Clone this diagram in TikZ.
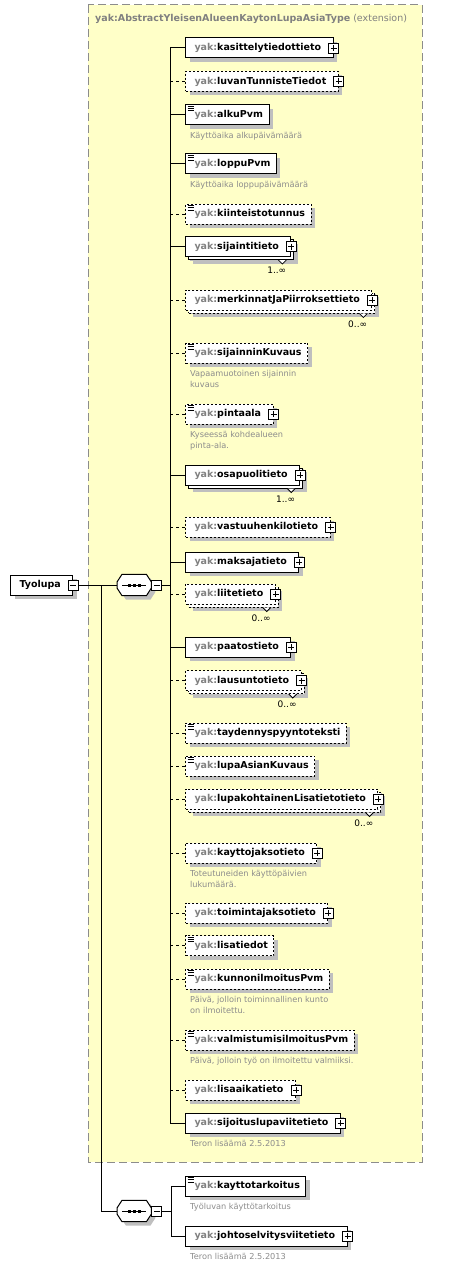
\documentclass[tikz,border=0pt]{standalone}
\usepackage{fontspec}
\setmainfont{DejaVu Sans}
\usetikzlibrary{shadows, positioning}

\definecolor{framefill}{HTML}{FFFFC8}
\definecolor{framedraw}{HTML}{8C8C8C}
\definecolor{pregray}{HTML}{808080}
\definecolor{docgray}{HTML}{8C8C8C}
\newcommand\yak{\textcolor{pregray}{yak:}}
% sequence compositor drawn round a named node
\newcommand\seqshape[1]{%
	\draw[line width=1pt, fill=white, shd=4pt] ([xshift=5pt]#1.north west) -- ([xshift=-5pt]#1.north east)
		-- ([yshift=3pt]#1.east) -- ([yshift=-3pt]#1.east) -- ([xshift=-5pt]#1.south east)
		-- ([xshift=5pt]#1.south west) -- ([yshift=-3pt]#1.west) -- ([yshift=3pt]#1.west) -- cycle;
	\draw[line width=1pt] ([xshift=5pt]#1.west) -- ([xshift=-5pt]#1.east);
	\foreach \d in {-5,0,5}
		\fill ([shift={(\d-1.5,-1.5)}]#1.center) rectangle ++(3,3);}

\tikzset{
	x=1pt, y=-1pt,
	shd/.style={drop shadow={shadow xshift=#1, shadow yshift=-#1, fill=black!25, opacity=1}},
	elem/.style={draw, fill=white, line width=1pt, anchor=west, minimum height=20pt,
		inner xsep=6pt, inner ysep=0pt, font=\fontsize{9.5}{11}\selectfont\bfseries,
		execute at begin node=\hspace{3pt}, shd=4pt},
	opt/.style={dash pattern=on 2pt off 2pt},
	plus/.style={execute at end node=\hspace{6pt}},
	multi/.style={shd=7pt, copy shadow={shadow xshift=3pt, shadow yshift=-3pt, draw, fill=white}},
	icon/.style={path picture={
		\foreach \d in {1.5,3.7,5.9}
			\draw[solid, line width=0.6pt] ([shift={(2,\d)}]path picture bounding box.north west) -- ++(6,0);}},
	plusbox/.style={draw, solid, fill=white, line width=0.8pt, minimum size=10pt, inner sep=0pt,
		path picture={
			\draw[line width=0.8pt] ([xshift=2pt]path picture bounding box.west) -- ([xshift=-2pt]path picture bounding box.east);
			\draw[line width=0.8pt] ([yshift=-2pt]path picture bounding box.north) -- ([yshift=2pt]path picture bounding box.south);}},
	minusbox/.style={draw, solid, fill=white, line width=0.8pt, minimum size=10pt, inner sep=0pt,
		path picture={
			\draw[line width=0.8pt] ([xshift=2pt]path picture bounding box.west) -- ([xshift=-2pt]path picture bounding box.east);}},
	seq/.style={anchor=west, minimum width=34pt, minimum height=21pt, inner sep=0pt},
	doc/.style={font=\fontsize{8.2}{11}\selectfont, text=docgray, align=left, inner sep=0pt},
	card/.style={font=\fontsize{9}{10}\selectfont, inner sep=0pt},
	link/.style={line width=1pt},
	optlink/.style={line width=1pt, dash pattern=on 3pt off 3pt}
}

\begin{document}
\begin{tikzpicture}
	\useasboundingbox (0,0) rectangle (465,1268);
	\draw[draw=framedraw, fill=framefill, line width=1pt, dash pattern=on 8pt off 4pt] (88,5) rectangle (422,1162);
	\node[anchor=west, inner sep=0pt, text=pregray, font=\fontsize{9.5}{11}\selectfont] (title) at (95,19)
		{\textbf{yak:AbstractYleisenAlueenKaytonLupaAsiaType} (extension)};

	% main element and its sequences
	\node[elem, plus] (tyolupa) at (10,585) {Tyolupa};
	\node[minusbox] (tyolupamin) at (tyolupa.east) {};
	\node[seq] (seq) at (117,585) {};
	\seqshape{seq}
	\node[minusbox, anchor=west] (seqmin) at (seq.east) {};
	\node[seq] (seqb) at (117,1211) {};
	\seqshape{seqb}
	\node[minusbox, anchor=west] (seqbmin) at (seqb.east) {};

	% children of the extension
	\node[elem, plus] (kasittely) at (185,48) {\yak kasittelytiedottieto};
	\node[elem, opt, plus] (luvanTunniste) at (185,81.5) {\yak luvanTunnisteTiedot};
	\node[elem, icon] (alkuPvm) at (185,114.7) {\yak alkuPvm};
	\node[elem, icon] (loppuPvm) at (185,164) {\yak loppuPvm};
	\node[elem, opt, icon] (kiinteisto) at (185,214) {\yak kiinteistotunnus};
	\node[elem, multi, plus] (sijainti) at (185,246.5) {\yak sijaintitieto};
	\node[elem, opt, multi, plus] (merkinnat) at (185,300) {\yak merkinnatJaPiirroksettieto};
	\node[elem, opt, icon] (sijainninKuvaus) at (185,353) {\yak sijainninKuvaus};
	\node[elem, opt, icon, plus] (pintaala) at (185,414) {\yak pintaala};
	\node[elem, multi, plus] (osapuoli) at (185,475) {\yak osapuolitieto};
	\node[elem, opt, plus] (vastuuhenkilo) at (185,527) {\yak vastuuhenkilotieto};
	\node[elem, plus] (maksaja) at (185,562) {\yak maksajatieto};
	\node[elem, opt, multi, plus] (liite) at (185,594) {\yak liitetieto};
	\node[elem, plus] (paatos) at (185,647) {\yak paatostieto};
	\node[elem, opt, multi, plus] (lausunto) at (185,680.5) {\yak lausuntotieto};
	\node[elem, opt, icon] (taydennys) at (185,733) {\yak taydennyspyyntoteksti};
	\node[elem, opt, icon] (lupaAsian) at (185,766) {\yak lupaAsianKuvaus};
	\node[elem, opt, multi, plus] (lupakohtainen) at (185,799) {\yak lupakohtainenLisatietotieto};
	\node[elem, opt, plus] (kayttojakso) at (185,853) {\yak kayttojaksotieto};
	\node[elem, opt, plus] (toimintajakso) at (185,913) {\yak toimintajaksotieto};
	\node[elem, opt, icon] (lisatiedot) at (185,945.5) {\yak lisatiedot};
	\node[elem, opt, icon] (kunnonilmoitus) at (185,979) {\yak kunnonilmoitusPvm};
	\node[elem, opt, icon] (valmistumis) at (185,1040) {\yak valmistumisilmoitusPvm};
	\node[elem, opt, plus] (lisaaika) at (185,1090) {\yak lisaaikatieto};
	\node[elem, plus] (sijoituslupa) at (185,1123) {\yak sijoituslupaviitetieto};

	% children of the second sequence
	\node[elem, icon] (kayttotarkoitus) at (185,1186) {\yak kayttotarkoitus};
	\node[elem, plus] (johtoselvitys) at (185,1236) {\yak johtoselvitysviitetieto};

	% annotations
	\node[doc, below right=7pt and 5pt of alkuPvm.south west] {Käyttöaika alkupäivämäärä};
	\node[doc, below right=7pt and 5pt of loppuPvm.south west] {Käyttöaika loppupäivämäärä};
	\node[doc, below right=7pt and 5pt of sijainninKuvaus.south west] {Vapaamuotoinen sijainnin\\kuvaus};
	\node[doc, below right=7pt and 5pt of pintaala.south west] {Kyseessä kohdealueen\\pinta-ala.};
	\node[doc, below right=7pt and 5pt of kayttojakso.south west] {Toteutuneiden käyttöpäivien\\lukumäärä.};
	\node[doc, below right=7pt and 5pt of kunnonilmoitus.south west] {Päivä, jolloin toiminnallinen kunto\\on ilmoitettu.};
	\node[doc, below right=7pt and 5pt of valmistumis.south west] {Päivä, jolloin työ on ilmoitettu valmiiksi.};
	\node[doc, below right=7pt and 5pt of sijoituslupa.south west] {Teron lisäämä 2.5.2013};
	\node[doc, below right=7pt and 5pt of kayttotarkoitus.south west] {Työluvan käyttötarkoitus};
	\node[doc, below right=7pt and 5pt of johtoselvitys.south west] {Teron lisäämä 2.5.2013};

	% expand boxes
	\foreach \n in {kasittely, luvanTunniste, sijainti, merkinnat, pintaala, osapuoli, vastuuhenkilo,
		maksaja, liite, paatos, lausunto, lupakohtainen, kayttojakso, toimintajakso, lisaaika,
		sijoituslupa, johtoselvitys}
		\node[plusbox] at (\n.east) {};

	% occurrence marks
	\foreach \n/\c in {sijainti/1, merkinnat/0, osapuoli/1, liite/0, lausunto/0, lupakohtainen/0} {
		\draw[line width=0.8pt, fill=white] ([shift={(-13,3)}]\n.south east) -- ++(4,4) -- ++(4,-4);
		\node[card, below left=10pt and 5pt of \n.south east] {\c..∞};
	}

	% connectors
	\coordinate (fork) at (101,585);
	\coordinate (trunk) at (170,48);
	\coordinate (trunkb) at (171,1186);
	\draw[link] (tyolupamin.east) -- (seq.west);
	\draw[link] (fork) |- (seqb.west);
	\draw[link] (seqmin.east) -- (seqmin.east -| trunk);
	\draw[link] (trunk) -- (trunk |- sijoituslupa.west);
	\foreach \n in {kasittely, alkuPvm, loppuPvm, sijainti, osapuoli, maksaja, paatos, sijoituslupa}
		\draw[link] (trunk |- \n.west) -- (\n.west);
	\foreach \n in {luvanTunniste, kiinteisto, merkinnat, sijainninKuvaus, pintaala, vastuuhenkilo,
		liite, lausunto, taydennys, lupaAsian, lupakohtainen, kayttojakso, toimintajakso,
		lisatiedot, kunnonilmoitus, valmistumis, lisaaika}
		\draw[optlink] (trunk |- \n.west) -- (\n.west);
	\draw[link] (seqbmin.east) -- (seqbmin.east -| trunkb);
	\draw[link] (kayttotarkoitus.west) -- (trunkb) -- (trunkb |- johtoselvitys.west) -- (johtoselvitys.west);
\end{tikzpicture}
\end{document}
